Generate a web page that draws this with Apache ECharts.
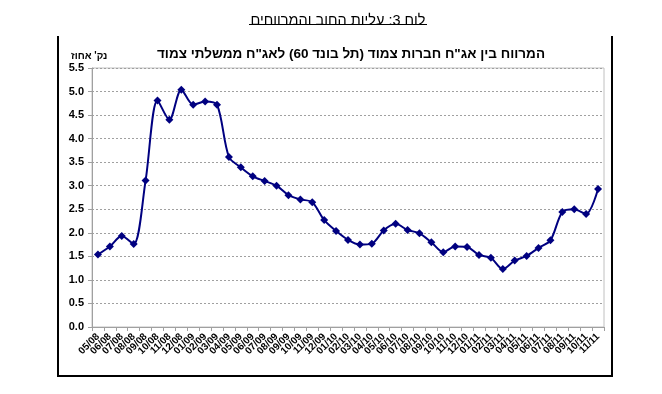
<!DOCTYPE html>
<html>
<head>
<meta charset="utf-8">
<script src="https://cdn.jsdelivr.net/npm/echarts@6/dist/echarts.min.js"></script>
<style>
html,body{margin:0;padding:0;background:#fff;}
#chart{width:662px;height:394px;}
</style>
</head>
<body>
<div id="chart"></div>
<script>
const mainTitle = 'לוח 3: עליות החוב והמרווחים';
const subTitle = 'המרווח בין אג"ח חברות צמוד (תל בונד 60) לאג"ח ממשלתי צמוד';
const unitLabel = "נק' אחוז";
const months = ['05/08','06/08','07/08','08/08','09/08','10/08','11/08','12/08',
  '01/09','02/09','03/09','04/09','05/09','06/09','07/09','08/09','09/09','10/09','11/09','12/09',
  '01/10','02/10','03/10','04/10','05/10','06/10','07/10','08/10','09/10','10/10','11/10','12/10',
  '01/11','02/11','03/11','04/11','05/11','06/11','07/11','08/11','09/11','10/11','11/11'];
const spread = [1.54,1.71,1.93,1.76,3.11,4.81,4.40,5.04,
  4.72,4.79,4.72,3.61,3.39,3.20,3.10,3.00,2.80,2.71,2.65,2.27,
  2.04,1.85,1.75,1.77,2.05,2.19,2.06,1.99,1.80,1.59,1.71,1.70,
  1.53,1.47,1.23,1.41,1.51,1.68,1.84,2.44,2.50,2.40,2.93];
const yMin = 0, yMax = 5.5, yStep = 0.5;

const chart = echarts.init(document.getElementById('chart'));
const font = '"Liberation Sans", Arial, sans-serif';
chart.setOption({
  animation: false,
  backgroundColor: '#fff',
  title: [
    {text: mainTitle, left: 333, top: 8, textAlign: 'center',
     textStyle: {fontFamily: font, fontSize: 14.5, fontWeight: 'normal', color: '#000'}},
    {text: subTitle, left: 346, top: 42, textAlign: 'center',
     textStyle: {fontFamily: font, fontSize: 13.5, fontWeight: 'bold', color: '#000'}},
    {text: unitLabel, left: 66, top: 46,
     textStyle: {fontFamily: font, fontSize: 10, fontWeight: 'bold', color: '#000'}}
  ],
  graphic: [
    {type: 'line', shape: {x1: 249, y1: 24.5, x2: 427, y2: 24.5}, style: {stroke: '#000', lineWidth: 1}},
    {type: 'polyline', shape: {points: [[58,36],[58,376],[612,376],[612,36]]},
     style: {stroke: '#000', lineWidth: 2, fill: null}}
  ],
  grid: {left: 92, right: 58, top: 68, bottom: 67, show: true, borderColor: '#c0c0c0', borderWidth: 1},
  xAxis: {
    type: 'category', data: months, boundaryGap: true,
    axisLine: {lineStyle: {color: '#a0a0a0'}},
    axisTick: {show: true, length: 4, lineStyle: {color: '#a0a0a0'}},
    axisLabel: {rotate: 45, interval: 0, fontFamily: font, fontSize: 10, fontWeight: 'bold', color: '#000', margin: 8}
  },
  yAxis: {
    type: 'value', min: yMin, max: yMax, interval: yStep,
    axisLine: {show: true, lineStyle: {color: '#a0a0a0'}},
    axisTick: {show: true, length: 4, lineStyle: {color: '#a0a0a0'}},
    axisLabel: {formatter: v => v.toFixed(1), fontFamily: font, fontSize: 11, fontWeight: 'bold', color: '#000', margin: 8},
    splitLine: {show: true, lineStyle: {color: '#a0a0a0', type: [2, 2], width: 1}}
  },
  series: [{
    type: 'line', data: spread, smooth: 0.3,
    symbol: 'diamond', symbolSize: 8,
    lineStyle: {color: '#000080', width: 2},
    itemStyle: {color: '#000080'}
  }]
});
</script>
</body>
</html>
